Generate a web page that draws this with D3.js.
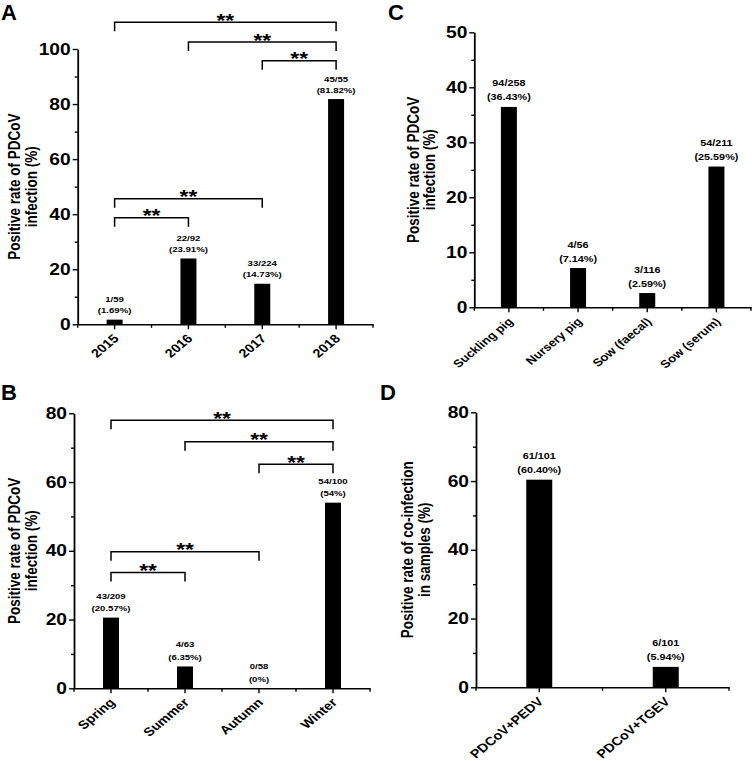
<!DOCTYPE html>
<html><head><meta charset="utf-8">
<script src="https://cdn.jsdelivr.net/npm/d3@7/dist/d3.min.js"></script>
<style>
body{margin:0;background:#fff}
text{font-family:"Liberation Sans",Arial,Helvetica,sans-serif;font-weight:bold;fill:#000}
</style>
</head><body>
<svg id="chart" width="752" height="761"></svg>
<script>
// ---------- data ----------
const yearCats = ["2015", "2016", "2017", "2018"];
const yearRates = [1.69, 23.91, 14.73, 81.82];
const yearCounts = ["1/59", "22/92", "33/224", "45/55"];
const yearPct = ["(1.69%)", "(23.91%)", "(14.73%)", "(81.82%)"];
const yearBrackets = [[0, 3, 109.7], [1, 3, 102.5], [2, 3, 95.7], [0, 2, 45.6], [0, 1, 38.7]];
const yearTicks = [0, 20, 40, 60, 80, 100];
const yearMinor = [10, 30, 50, 70, 90];

const seasonCats = ["Spring", "Summer", "Autumn", "Winter"];
const seasonRates = [20.57, 6.35, 0, 54];
const seasonCounts = ["43/209", "4/63", "0/58", "54/100"];
const seasonPct = ["(20.57%)", "(6.35%)", "(0%)", "(54%)"];
const seasonBrackets = [[0, 3, 78], [1, 3, 71.7], [2, 3, 65.2], [0, 2, 39.7], [0, 1, 33.7]];
const seasonTicks = [0, 20, 40, 60, 80];
const seasonMinor = [10, 30, 50, 70];

const sampleCats = ["Suckling pig", "Nursery pig", "Sow (faecal)", "Sow (serum)"];
const sampleRates = [36.43, 7.14, 2.59, 25.59];
const sampleCounts = ["94/258", "4/56", "3/116", "54/211"];
const samplePct = ["(36.43%)", "(7.14%)", "(2.59%)", "(25.59%)"];
const sampleBrackets = [];
const sampleTicks = [0, 10, 20, 30, 40, 50];
const sampleMinor = [5, 15, 25, 35, 45];

const coCats = ["PDCoV+PEDV", "PDCoV+TGEV"];
const coRates = [60.40, 5.94];
const coCounts = ["61/101", "6/101"];
const coPct = ["(60.40%)", "(5.94%)"];
const coBrackets = [];
const coTicks = [0, 20, 40, 60, 80];
const coMinor = [10, 30, 50, 70];

const titlePDCoV = ["Positive rate of PDCoV", "infection (%)"];
const titleCo = ["Positive rate of co-infection", "in samples (%)"];

// ---------- drawing ----------
const S = 1.2; // horizontal stretch of the text in the source figure
const FONT = "Liberation Sans, Arial, sans-serif";
const svg = d3.select("#chart");

function panel(cfg, cats, vals, counts, pcts, brackets, ticks, minor, title) {
  const g = svg.append("g");
  const x = d3.scaleBand().domain(cats).range([cfg.x0, cfg.x1]).padding(0);
  const y = d3.scaleLinear().domain([0, cfg.yMax]).range([cfg.yb, cfg.yt]);
  const cx = c => x(c) + x.bandwidth() / 2;

  // bars
  g.selectAll("rect.bar").data(cats).join("rect")
    .attr("x", c => cx(c) - cfg.barW / 2)
    .attr("width", cfg.barW)
    .attr("y", (c, i) => y(vals[i]))
    .attr("height", (c, i) => y(0) - y(vals[i]))
    .attr("fill", "#000");

  // x axis
  const xa = g.append("g").attr("transform", `translate(0,${y(0)})`)
    .call(d3.axisBottom(x).tickSizeInner(5).tickSizeOuter(0).tickPadding(0));
  xa.select(".domain").attr("stroke-width", 1.6);
  xa.selectAll(".tick line").attr("stroke-width", 1.4);
  xa.selectAll(".tick text")
    .attr("x", 0).attr("y", 0).attr("dy", 0)
    .attr("text-anchor", "end")
    .attr("transform", `translate(5,15) scale(${S},1) rotate(-45)`)
    .style("font-size", cfg.xf + "px").style("font-family", FONT).style("font-weight", "bold");
  // boundary ticks
  const bounds = d3.range(cats.length + 1).map(i => cfg.x0 + i * x.step());
  xa.selectAll("line.bt").data(bounds).join("line")
    .attr("x1", d => d).attr("x2", d => d).attr("y1", 0).attr("y2", 3.5)
    .attr("stroke", "#000").attr("stroke-width", 1.4);

  // y axis
  const ya = g.append("g").attr("transform", `translate(${cfg.x0},0)`)
    .call(d3.axisLeft(y).tickValues(ticks).tickSizeInner(5).tickSizeOuter(0).tickPadding(3));
  ya.select(".domain").attr("stroke-width", 1.8);
  ya.selectAll(".tick line").attr("stroke-width", 1.4);
  ya.selectAll(".tick text")
    .attr("x", -7 / S)
    .attr("transform", `scale(${S},1)`)
    .style("font-size", "16px").style("font-family", FONT).style("font-weight", "bold");
  const ym = g.append("g").attr("transform", `translate(${cfg.x0},0)`)
    .call(d3.axisLeft(y).tickValues(minor).tickSize(3).tickFormat(""));
  ym.select(".domain").remove();
  ym.selectAll(".tick line").attr("stroke-width", 1.4);

  // value labels
  cats.forEach((c, i) => {
    const base = y(vals[i]) - cfg.gap;
    g.append("text").attr("transform", `translate(${cx(c)},${base}) scale(${S},1)`)
      .attr("text-anchor", "middle").style("font-size", cfg.lf + "px").text(pcts[i]);
    g.append("text").attr("transform", `translate(${cx(c)},${base - cfg.lh}) scale(${S},1)`)
      .attr("text-anchor", "middle").style("font-size", cfg.lf + "px").text(counts[i]);
  });

  // significance brackets
  brackets.forEach(([a, b, lev]) => {
    const xa1 = cx(cats[a]), xb1 = cx(cats[b]), yy = y(lev);
    g.append("path")
      .attr("d", `M${xa1},${yy + 9}V${yy}H${xb1}V${yy + 9}`)
      .attr("fill", "none").attr("stroke", "#000").attr("stroke-width", 1.5);
    g.append("text").attr("transform", `translate(${(xa1 + xb1) / 2},${yy + 4.5}) scale(${S},1)`)
      .attr("text-anchor", "middle").style("font-size", "19px").text("**");
  });

  // y title
  const mid = (cfg.yb + cfg.yt) / 2;
  title.forEach((t, k) => {
    g.append("text").attr("transform", `translate(${cfg.tx[k]},${mid}) scale(${S},1) rotate(-90)`)
      .attr("text-anchor", "middle").style("font-size", "13.5px").text(t);
  });

  // panel letter
  g.append("text").attr("x", cfg.lx).attr("y", cfg.ly).style("font-size", "22px").text(cfg.letter);
}

panel({letter: "A", lx: 1, ly: 20, x0: 77.7, x1: 373, yb: 324.3, yt: 49, yMax: 100, barW: 16,
       lf: 8, lh: 11, gap: 6.5, xf: 12, tx: [20, 37]},
      yearCats, yearRates, yearCounts, yearPct, yearBrackets, yearTicks, yearMinor, titlePDCoV);

panel({letter: "B", lx: 1, ly: 400, x0: 74, x1: 370, yb: 688.3, yt: 413.3, yMax: 80, barW: 16,
       lf: 8, lh: 12.5, gap: 6.5, xf: 12, tx: [20, 37]},
      seasonCats, seasonRates, seasonCounts, seasonPct, seasonBrackets, seasonTicks, seasonMinor, titlePDCoV);

panel({letter: "C", lx: 388, ly: 20, x0: 474.3, x1: 751, yb: 307.3, yt: 32.3, yMax: 50, barW: 16,
       lf: 9, lh: 14, gap: 6.5, xf: 11, tx: [419, 435]},
      sampleCats, sampleRates, sampleCounts, samplePct, sampleBrackets, sampleTicks, sampleMinor, titlePDCoV);

panel({letter: "D", lx: 380, ly: 400, x0: 476, x1: 729, yb: 687.3, yt: 412.3, yMax: 80, barW: 26,
       lf: 9, lh: 14, gap: 6.5, xf: 12, tx: [413, 430]},
      coCats, coRates, coCounts, coPct, coBrackets, coTicks, coMinor, titleCo);
</script>
</body></html>
